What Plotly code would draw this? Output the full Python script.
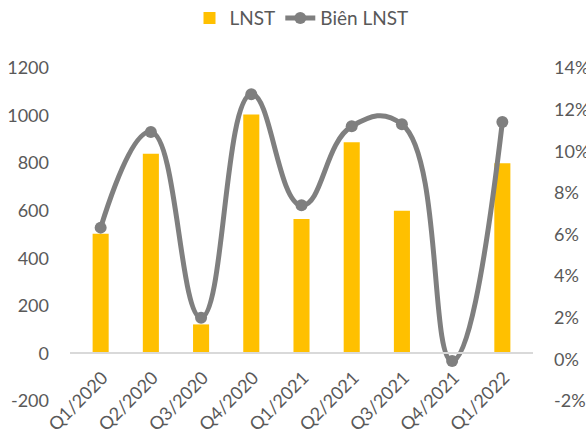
import plotly.graph_objects as go

categories = ["Q1/2020", "Q2/2020", "Q3/2020", "Q4/2020", "Q1/2021",
              "Q2/2021", "Q3/2021", "Q4/2021", "Q1/2022"]
lnst = [503, 840, 122, 1005, 565, 888, 600, 0, 800]
bien_lnst = [0.0633, 0.1093, 0.0200, 0.1274, 0.0740, 0.1120, 0.1130, -0.0008, 0.1140]
left_ticks = [-200, 0, 200, 400, 600, 800, 1000, 1200]
left_labels = ["-200", "0", "200", "400", "600", "800", "1000", "1200"]
right_ticks = [-0.02, 0, 0.02, 0.04, 0.06, 0.08, 0.10, 0.12, 0.14]
right_labels = ["-2%", "0%", "2%", "4%", "6%", "8%", "10%", "12%", "14%"]

FONT = "Lato"
GREY = "#595959"

fig = go.Figure()
fig.add_trace(go.Bar(
    x=categories, y=lnst, name="LNST",
    marker=dict(color="#FFC000", line=dict(width=0)),
    width=0.32,
))
fig.add_trace(go.Scatter(
    x=categories, y=bien_lnst, name="Biên LNST", yaxis="y2",
    mode="lines+markers",
    line=dict(color="#7F7F7F", width=5, shape="spline", smoothing=1.3),
    marker=dict(color="#7F7F7F", size=12),
))

fig.update_layout(
    width=586, height=433,
    margin=dict(l=70, r=53, t=68, b=32, autoexpand=False),
    paper_bgcolor="white", plot_bgcolor="white",
    font=dict(family=FONT, size=18, color=GREY),
    showlegend=True,
    legend=dict(orientation="h", x=0.5, xanchor="center", y=1.15, yanchor="middle",
                font=dict(family=FONT, size=19, color=GREY), traceorder="normal"),
    bargap=0.68,
    xaxis=dict(
        type="category", anchor="free", position=200 / 1400, automargin=False,
        showline=True, linecolor="#D9D9D9", linewidth=1.5,
        tickangle=-45, showgrid=False, zeroline=False,
        ticks="outside", ticklen=6, tickcolor="rgba(0,0,0,0)",
        ticklabelshift=2, ticklabeloverflow="allow",
        tickfont=dict(family=FONT, size=18, color=GREY),
    ),
    yaxis=dict(
        range=[-200, 1200], tickvals=left_ticks, ticktext=left_labels,
        showgrid=False, zeroline=False, automargin=False,
        showline=False, ticks="", ticklabelstandoff=20,
        tickfont=dict(family=FONT, size=18, color=GREY),
    ),
    yaxis2=dict(
        range=[-0.02, 0.14], tickvals=right_ticks, ticktext=right_labels,
        overlaying="y", side="right", showgrid=False, zeroline=False,
        showline=False, ticks="", ticklabelstandoff=20, automargin=False,
        tickfont=dict(family=FONT, size=18, color=GREY),
    ),
)

fig.write_html("out.html")
